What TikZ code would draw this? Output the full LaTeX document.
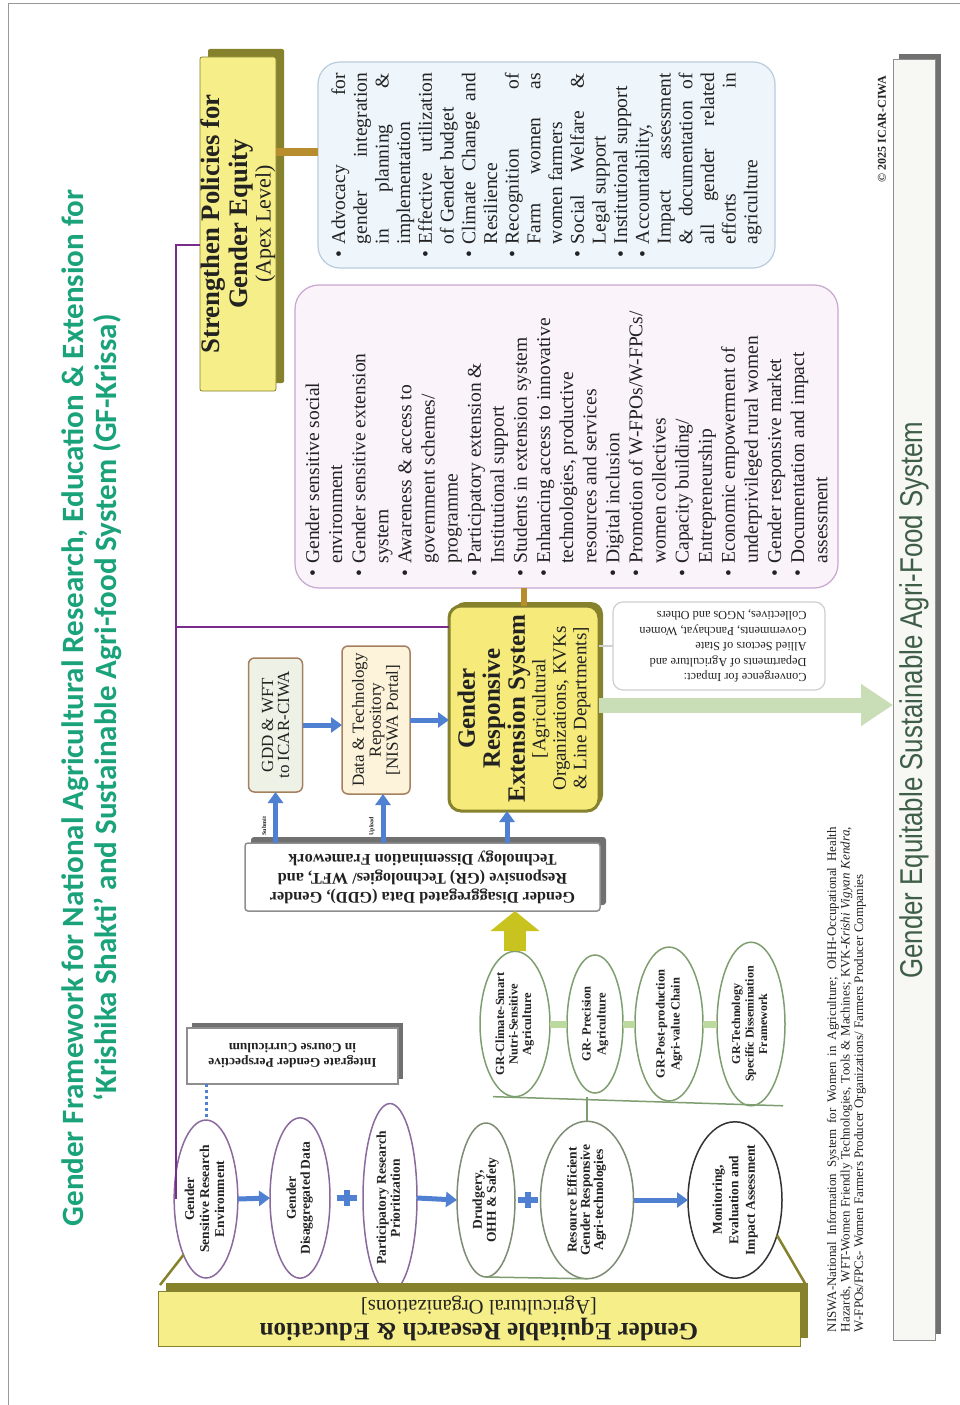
\documentclass[tikz,border=0pt]{standalone}
\usepackage{fontspec}
\setmainfont{Liberation Serif}
\newfontfamily\titlefont{Carlito}
\newfontfamily\bannerfont[FakeStretch=0.82]{Liberation Sans}
\usetikzlibrary{arrows.meta,shapes.geometric,shadows,calc}

\definecolor{titlegreen}{HTML}{1AA37A}
\definecolor{yfill}{HTML}{F6EE88}
\definecolor{gresfill}{HTML}{F5EA7A}
\definecolor{olivedk}{HTML}{85812C}
\definecolor{olconcol}{HTML}{B78D2D}
\definecolor{purpleline}{HTML}{7A2C8C}
\definecolor{arrowblue}{HTML}{4F80D2}
\definecolor{lgreen}{HTML}{C9DEB6}
\definecolor{ygreen}{HTML}{C9C31F}
\definecolor{gbarcol}{HTML}{BCD99E}
\definecolor{glinecol}{HTML}{7E9E70}
\definecolor{epurple}{HTML}{8A6A9E}
\definecolor{egreen}{HTML}{7D8C72}
\definecolor{bluefill}{HTML}{EEF5FB}
\definecolor{blueedge}{HTML}{B9CCDD}
\definecolor{pinkfill}{HTML}{FAF3FA}
\definecolor{pinkedge}{HTML}{C8A6D0}
\definecolor{gddfill}{HTML}{EEF2E6}
\definecolor{brownedge}{HTML}{A5805F}
\definecolor{datafill}{HTML}{FDF3DA}
\definecolor{grayedge}{HTML}{8E8E8E}
\definecolor{graybevel}{HTML}{707070}
\definecolor{convedge}{HTML}{CFCFCF}
\definecolor{rbfill}{HTML}{F7F7F4}
\definecolor{bannertext}{HTML}{3F5E48}
\definecolor{txt}{HTML}{222222}

\newcommand{\vtxt}[1]{\rotatebox{90}{#1}}
\newcommand{\utxt}[1]{\rotatebox{180}{#1}}
\newcommand{\clines}[1]{\begin{tabular}{@{}c@{}}#1\end{tabular}}
\newcommand{\mybul}{\makebox[13pt][l]{\textbullet}}
\newcommand{\bitem}[1]{\noindent\hangindent=13pt\hangafter=1\mybul#1\par}

\begin{document}
\begin{tikzpicture}[x=1pt,y=-1pt,
  every node/.style={inner sep=0pt,outer sep=0pt,text=txt},
  olbevel/.style={drop shadow={shadow xshift=#1pt,shadow yshift=#1pt,fill=olivedk,opacity=1}},
  grbevel/.style={drop shadow={shadow xshift=#1pt,shadow yshift=#1pt,fill=graybevel,opacity=1}},
  ell/.style={ellipse,draw,fill=white,line width=1.5,font=\bfseries\fontsize{13.5}{14}\selectfont},
  gell/.style={ell,draw=glinecol,font=\bfseries\fontsize{12.5}{13.5}\selectfont},
  bluearrow/.style={draw=arrowblue,line width=5,-{Triangle[length=11pt,width=15pt]}},
  lgarrow/.style={draw=lgreen,line width=15,-{Triangle[length=32pt,width=40pt]}},
  ygarrow/.style={draw=ygreen,line width=22,-{Triangle[length=20pt,width=48pt]}},
  purplecon/.style={draw=purpleline,line width=2.5},
  olivecon/.style={draw=olconcol,line width=#1},
  gbar/.style={draw=gbarcol,line width=7},
  gline/.style={draw=glinecol,line width=1.5},
  dashcon/.style={draw=arrowblue,line width=3,dashed},
  convline/.style={draw=convedge,line width=1.2},
  plusbar/.style={draw=arrowblue,line width=6}
]
\useasboundingbox (0,0) rectangle (960,1405);
\fill[white] (0,0) rectangle (960,1405);
\draw[black!40,line width=0.8] (8,1405) -- (8,3.5) -- (960,3.5);

% ---------- title ----------
\node[rotate=90,align=center,text=titlegreen,font=\titlefont\bfseries\fontsize{31}{33}\selectfont] (title) at (92,708)
 {Gender Framework for National Agricultural Research, Education \& Extension for\\‘Krishika Shakti’ and Sustainable Agri-food System (GF-Krissa)};

% ---------- apex box ----------
\node[fill=yfill,draw=olivedk,line width=0.8,minimum width=76,minimum height=334,rounded corners=2,olbevel=8] (apex) at (238,224)
 {\vtxt{\parbox{330pt}{\centering\bfseries\fontsize{26.7}{28}\selectfont Strengthen Policies for\\Gender Equity\par
  \mdseries\fontsize{22}{23}\selectfont (Apex Level)\par}}};

% ---------- blue box ----------
\node[fill=bluefill,draw=blueedge,line width=1.2,rounded corners=22,minimum width=457,minimum height=206] (blue) at (546.5,165)
 {\vtxt{\parbox{184pt}{\fontsize{19.5}{21.7}\selectfont
  \bitem{Advocacy for\linebreak gender integration\linebreak in planning \&\linebreak implementation}
  \bitem{Effective utilization\linebreak of Gender budget}
  \bitem{Climate Change and\linebreak Resilience}
  \bitem{Recognition of\linebreak Farm women as\linebreak women farmers}
  \bitem{Social Welfare \&\linebreak Legal support}
  \bitem{Institutional support}
  \bitem{Accountability,\linebreak Impact assessment\linebreak \& documentation of\linebreak all gender related\linebreak efforts in\linebreak agriculture}
 }}};

% ---------- pink box ----------
\node[fill=pinkfill,draw=pinkedge,line width=1.2,rounded corners=24,minimum width=543,minimum height=303] (pink) at (566.5,436.5)
 {\vtxt{\parbox{280pt}{\raggedright\fontsize{19.5}{23.1}\selectfont
  \bitem{Gender sensitive social\newline environment}
  \bitem{Gender sensitive extension\newline system}
  \bitem{Awareness \& access to\newline government schemes/\newline programme}
  \bitem{Participatory extension \&\newline Institutional support}
  \bitem{Students in extension system}
  \bitem{Enhancing access to innovative\newline technologies, productive\newline resources and services}
  \bitem{Digital inclusion}
  \bitem{Promotion of W-FPOs/W-FPCs/\newline women collectives}
  \bitem{Capacity building/\newline Entrepreneurship}
  \bitem{Economic empowerment of\newline underprivileged rural women}
  \bitem{Gender responsive market}
  \bitem{Documentation and impact\newline assessment}
 }}};

% ---------- middle boxes ----------
\node[fill=gddfill,draw=brownedge,line width=1.5,rounded corners=6,minimum width=54,minimum height=134] (gdd) at (275.5,725)
 {\vtxt{\parbox{130pt}{\centering\fontsize{17}{16}\selectfont GDD \& WFT\\to ICAR-CIWA}}};
\node[fill=datafill,draw=brownedge,line width=1.5,rounded corners=6,minimum width=68,minimum height=148] (data) at (376,720)
 {\vtxt{\parbox{145pt}{\centering\fontsize{17}{17}\selectfont Data \& Technology\\Repository\\{[}NISWA Portal{]}}}};
\node[fill=gresfill,draw=olivedk,line width=3,rounded corners=12,minimum width=150,minimum height=201,olbevel=4] (gres) at (524,708.5)
 {\vtxt{\parbox{205pt}{\centering\bfseries\fontsize{25}{25}\selectfont Gender\\Responsive\\Extension System\par
  \mdseries\fontsize{19}{20.5}\selectfont {[}Agricultural\\Organizations, KVKs\\\& Line Departments{]}\par}}};
\node[fill=white,draw=convedge,line width=1.2,rounded corners=10,minimum width=212,minimum height=88] (conv) at (719,646)
 {\utxt{\parbox{175pt}{\raggedright\fontsize{12.3}{15.5}\selectfont Convergence for Impact:\\Departments of Agriculture and\\Allied Sectors of State\\Governments, Panchayat, Women\\Collectives, NGOs and Others}}};
\node[fill=white,draw=grayedge,line width=1.5,rounded corners=3,minimum width=355,minimum height=68,grbevel=6] (frame) at (422.5,877)
 {\utxt{\parbox{330pt}{\centering\bfseries\fontsize{16.3}{19}\selectfont Gender Disaggregated Data (GDD), Gender\\Responsive (GR) Technologies/ WFT, and\\Technology Dissemination Framework}}};
\node[fill=white,draw=grayedge,line width=1.2,minimum width=211,minimum height=56,grbevel=5] (integ) at (292.5,1056)
 {\utxt{\parbox{200pt}{\centering\bfseries\fontsize{13.4}{15}\selectfont Integrate Gender Perspective\\in Course Curriculum}}};

\node[font=\bfseries\fontsize{6}{6}\selectfont] (sub) at (264,826) {\vtxt{Submit}};
\node[font=\bfseries\fontsize{6}{6}\selectfont] (upl) at (372,826) {\vtxt{Upload}};

% ---------- ellipses ----------
\node[ell,draw=epurple,minimum width=60,minimum height=158,font=\bfseries\fontsize{13.5}{15}\selectfont] (e1) at (206,1199) {\vtxt{\clines{Gender\\Sensitive Research\\Environment}}};
\node[ell,draw=epurple,minimum width=60,minimum height=150] (e2) at (300,1198) {\vtxt{\clines{Gender\\Disaggregated Data}}};
\node[ell,draw=epurple,minimum width=54,minimum height=151] (e3) at (390,1198) {\vtxt{\clines{Participatory Research\\Prioritization}}};
\node[ell,draw=egreen,minimum width=58,minimum height=154] (e4) at (486,1200) {\vtxt{\clines{Drudgery,\\OHH \& Safety}}};
\node[ell,draw=egreen,minimum width=93,minimum height=154,font=\bfseries\fontsize{13.5}{13}\selectfont] (e5) at (587,1200) {\vtxt{\clines{Resource Efficient\\Gender Responsive\\Agri-technologies}}};
\node[ell,draw=black!80,minimum width=94,minimum height=152,font=\bfseries\fontsize{13.5}{16.5}\selectfont] (e6) at (735,1200) {\vtxt{\clines{Monitoring,\\Evaluation and\\Impact Assessment}}};

\node[gell,minimum width=70,minimum height=138] (g1) at (515,1024) {\vtxt{\clines{GR-Climate-Smart\\Nutri-Sensitive\\Agriculture}}};
\node[gell,minimum width=56,minimum height=138,font=\bfseries\fontsize{12.5}{15}\selectfont] (g2) at (595,1024) {\vtxt{\clines{GR- Precision\\Agriculture}}};
\node[gell,minimum width=68,minimum height=138,font=\bfseries\fontsize{12.5}{15}\selectfont] (g3) at (669,1024) {\vtxt{\clines{GR-Post-production\\Agri-value Chain}}};
\node[gell,minimum width=68,minimum height=138,font=\bfseries\fontsize{12}{13.5}\selectfont] (g4) at (751,1024) {\vtxt{\clines{GR-Technology\\Specific Dissemination\\Framework}}};

% ---------- banners ----------
\node[fill=yfill,draw=olivedk,line width=0.8,minimum width=642,minimum height=55,olbevel=8] (bban) at (479,1318.5)
 {\utxt{\parbox{640pt}{\centering\bfseries\fontsize{25}{25}\selectfont Gender Equitable Research \& Education\par
  \mdseries\fontsize{20.7}{23}\selectfont {[}Agricultural Organizations{]}\par}}};
\node[fill=rbfill,draw=grayedge,line width=1,minimum width=42,minimum height=1280,grbevel=6] (rban) at (914,700)
 {\vtxt{\bannerfont\fontsize{31.5}{31.5}\selectfont\color{bannertext}Gender Equitable Sustainable Agri-Food System}};

\node[font=\bfseries\fontsize{12}{12}\selectfont] (copy) at (882,129) {\vtxt{© 2025 ICAR-CIWA}};
\node[anchor=south west] (foot) at (827,1332)
 {\vtxt{\parbox{505pt}{\fontsize{13}{13.5}\selectfont NISWA-National Information System for Women in Agriculture; OHH-Occupational Health\linebreak
 Hazards, WFT-Women Friendly Technologies, Tools \& Machines; KVK-\textit{Krishi Vigyan Kendra},\linebreak
 W-FPOs/FPCs- Women Farmers Producer Organizations/ Farmers Producer Companies}}};

% ---------- connectors ----------
\coordinate (pc) at (176,245);
\coordinate (pj) at (176,627);
\coordinate (oc) at (0,152);
\coordinate (ga) at (0,705);
\draw[purplecon] (apex.west |- pc) -- (pc) -- (pc |- e1.west);
\draw[purplecon] (pj) -- (pj -| gres.west);
\draw[olivecon=8] (apex.east |- oc) -- (blue.west |- oc);
\draw[olivecon=6] (gres.north |- pink.south) -- (gres.north);

\draw[bluearrow] (gdd.east) -- (gdd.east -| data.west);
\draw[bluearrow] (data.east) -- (data.east -| gres.west);
\draw[bluearrow] (frame.north -| gdd.south) -- (gdd.south);
\draw[bluearrow] ($(frame.north -| data.south)+(7,0)$) -- ($(data.south)+(7,0)$);
\draw[bluearrow] ($(frame.north -| gres.south)+(-17,0)$) -- ($(gres.south)+(-17,0)$);
\draw[ygarrow] (g1.north) -- (g1.north |- frame.south);
\draw[convline] (conv.west -| gres.east) -- (conv.west);
\draw[lgarrow] (gres.east |- ga) -- (rban.west |- ga);

\draw[dashcon] (integ.south -| e1.north) -- (e1.north);
\draw[bluearrow] (e1.east) -- (e2.west);
\draw[bluearrow] (e3.east) -- (e4.west);
\draw[bluearrow] (e5.east) -- (e6.west);
\coordinate (p1) at ($(e2.east)!0.5!(e3.west)$);
\coordinate (p2) at ($(e4.east)!0.5!(e5.west)$);
\draw[plusbar] ($(p1)+(-10,0)$) -- ($(p1)+(10,0)$) ($(p1)+(0,-8)$) -- ($(p1)+(0,8)$);
\draw[plusbar] ($(p2)+(-10,0)$) -- ($(p2)+(10,0)$) ($(p2)+(0,-8)$) -- ($(p2)+(0,8)$);

\draw[gbar] (g1.east) -- (g2.west);
\draw[gbar] (g2.east) -- (g3.west);
\draw[gbar] (g3.east) -- (g4.west);
\draw[gline] ($(g1.south)+(-22,0)$) -- ($(g4.south)+(32,0)$);
\draw[gline] (e5.north) -- (e5.north |- g1.south);
\draw[gline] (e4.south) -- (e5.south);

\draw[draw=olivedk,line width=2.5] ($(bban.north west)+(2,-6)$) -- (e1.south west);
\draw[draw=olivedk,line width=2.5] ($(bban.north east)+(6,-6)$) -- (e6.-40);
\end{tikzpicture}
\end{document}
